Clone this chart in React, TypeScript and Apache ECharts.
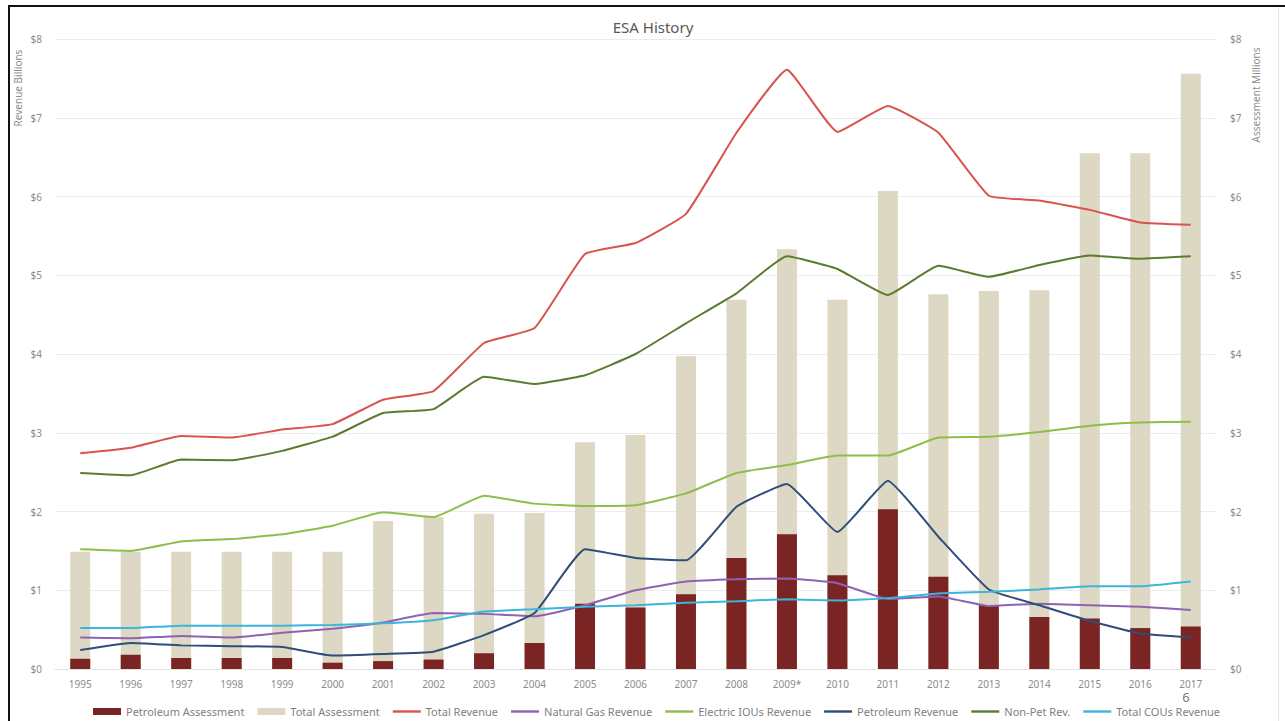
import React, { useEffect, useRef } from "react";
import * as echarts from "echarts";

const years = ["1995","1996","1997","1998","1999","2000","2001","2002","2003","2004","2005","2006","2007","2008","2009*","2010","2011","2012","2013","2014","2015","2016","2017"];
const petroleumAssessment = [0.13,0.18,0.14,0.14,0.14,0.08,0.10,0.12,0.20,0.33,0.83,0.78,0.95,1.41,1.71,1.19,2.03,1.17,0.81,0.66,0.64,0.52,0.54];
const totalAssessment = [1.49,1.49,1.49,1.49,1.49,1.49,1.88,1.93,1.97,1.98,2.88,2.97,3.97,4.69,5.33,4.69,6.07,4.76,4.80,4.81,6.55,6.55,7.56];
const totalRevenue = [2.74,2.81,2.96,2.94,3.04,3.11,3.42,3.53,4.14,4.33,5.27,5.41,5.78,6.81,7.61,6.82,7.15,6.81,6.01,5.95,5.83,5.67,5.64];
const naturalGasRevenue = [0.40,0.39,0.42,0.40,0.46,0.51,0.59,0.71,0.70,0.67,0.81,1.00,1.11,1.14,1.15,1.09,0.89,0.92,0.80,0.83,0.81,0.79,0.75];
const electricIOUsRevenue = [1.52,1.50,1.62,1.65,1.71,1.82,1.99,1.93,2.20,2.10,2.07,2.08,2.23,2.49,2.59,2.71,2.71,2.94,2.95,3.01,3.09,3.13,3.14];
const petroleumRevenue = [0.24,0.33,0.30,0.29,0.28,0.17,0.19,0.22,0.43,0.71,1.52,1.41,1.38,2.06,2.35,1.74,2.39,1.68,1.01,0.81,0.61,0.45,0.40];
const nonPetRevenue = [2.49,2.46,2.66,2.65,2.77,2.95,3.25,3.30,3.71,3.62,3.73,4.00,4.39,4.77,5.24,5.08,4.75,5.12,4.98,5.13,5.25,5.21,5.24];
const totalCOUsRevenue = [0.52,0.52,0.55,0.55,0.55,0.56,0.58,0.62,0.73,0.76,0.79,0.81,0.84,0.86,0.885,0.87,0.90,0.96,0.98,1.01,1.05,1.05,1.11];

const FONT = "'Noto Sans', 'Open Sans', sans-serif";

export default function App() {
  const ref = useRef<HTMLDivElement>(null);
  useEffect(() => {
    if (!ref.current) return;
    const chart = echarts.init(ref.current, undefined, { renderer: "svg" });
    const line = (name: string, data: number[], color: string) => ({
      name,
      type: "line",
      data,
      yAxisIndex: 0,
      symbol: "none",
      smooth: 0.12,
      z: 3,
      lineStyle: { color, width: 2 },
      itemStyle: { color },
    });
    const lineIcon = "path://M0,0H28V2.4H0Z";
    chart.setOption({
      animation: false,
      backgroundColor: "#ffffff",
      textStyle: { fontFamily: FONT },
      title: {
        text: "ESA History",
        left: 648,
        textAlign: "center",
        top: 14,
        textStyle: { fontSize: 15, fontWeight: "normal", color: "#595959", fontFamily: FONT },
      },
      grid: { left: 55, right: 69, top: 39, bottom: 52, containLabel: false },
      legend: {
        left: 88,
        top: 701,
        itemWidth: 28,
        itemHeight: 7,
        itemGap: 13,
        textStyle: { fontSize: 11, color: "#7f7f7f", fontFamily: FONT },
        data: [
          { name: "Petroleum Assessment", icon: "rect" },
          { name: "Total Assessment", icon: "rect" },
          { name: "Total Revenue", icon: lineIcon },
          { name: "Natural Gas Revenue", icon: lineIcon },
          { name: "Electric IOUs Revenue", icon: lineIcon },
          { name: "Petroleum Revenue", icon: lineIcon },
          { name: "Non-Pet Rev.", icon: lineIcon },
          { name: "Total COUs Revenue", icon: lineIcon },
        ],
      },
      xAxis: {
        type: "category",
        data: years,
        boundaryGap: true,
        axisLine: { show: true, lineStyle: { color: "#e3e3e3" } },
        axisTick: { show: false },
        axisLabel: { color: "#8c8c8c", fontSize: 10, margin: 10, interval: 0, fontFamily: FONT },
      },
      yAxis: [
        {
          type: "value",
          min: 0,
          max: 8,
          interval: 1,
          axisLine: { show: false },
          axisTick: { show: false },
          splitLine: { lineStyle: { color: "#ececec" } },
          axisLabel: { color: "#8c8c8c", fontSize: 10, margin: 13, formatter: "${value}", fontFamily: FONT },
        },
        {
          type: "value",
          min: 0,
          max: 8,
          interval: 1,
          axisLine: { show: false },
          axisTick: { show: false },
          splitLine: { show: false },
          axisLabel: { color: "#8c8c8c", fontSize: 10, margin: 14, formatter: "${value}", fontFamily: FONT },
        },
      ],
      graphic: [
        { type: "rect", shape: { x: 8, y: 5, width: 1277, height: 2 }, style: { fill: "#111" }, silent: true },
        { type: "rect", shape: { x: 8, y: 5, width: 2, height: 716 }, style: { fill: "#111" }, silent: true },
        { type: "rect", shape: { x: 1278, y: 7, width: 1, height: 714 }, style: { fill: "#e6e6e6" }, silent: true },
        {
          type: "text",
          x: 18,
          y: 88,
          rotation: Math.PI / 2,
          style: { text: "Revenue Billions", fontSize: 10, fill: "#8c8c8c", align: "center", verticalAlign: "middle", fontFamily: FONT },
        },
        {
          type: "text",
          x: 1256,
          y: 95,
          rotation: Math.PI / 2,
          style: { text: "Assessment Millions", fontSize: 10, fill: "#8c8c8c", align: "center", verticalAlign: "middle", fontFamily: FONT },
        },
        {
          type: "text",
          x: 1186,
          y: 697,
          style: { text: "6", fontSize: 13, fill: "#7a7a7a", align: "center", verticalAlign: "middle", fontFamily: FONT },
        },
      ],
      series: [
        {
          name: "Petroleum Assessment",
          type: "bar",
          data: petroleumAssessment,
          yAxisIndex: 1,
          barWidth: 20,
          barGap: "-100%",
          z: 2,
          itemStyle: { color: "#7a2524" },
        },
        {
          name: "Total Assessment",
          type: "bar",
          data: totalAssessment,
          yAxisIndex: 1,
          barWidth: 20,
          barGap: "-100%",
          z: 1,
          itemStyle: { color: "#ddd8c3" },
        },
        line("Total Revenue", totalRevenue, "#d9534f"),
        line("Natural Gas Revenue", naturalGasRevenue, "#8e62b2"),
        line("Electric IOUs Revenue", electricIOUsRevenue, "#8dbf48"),
        line("Petroleum Revenue", petroleumRevenue, "#2f4d78"),
        line("Non-Pet Rev.", nonPetRevenue, "#5b7b2f"),
        line("Total COUs Revenue", totalCOUsRevenue, "#3db4da"),
      ],
    });
    return () => chart.dispose();
  }, []);
  return (
    <div
      ref={ref}
      style={{ position: "fixed", left: 0, top: 0, width: 1285, height: 721, background: "#fff" }}
    />
  );
}
